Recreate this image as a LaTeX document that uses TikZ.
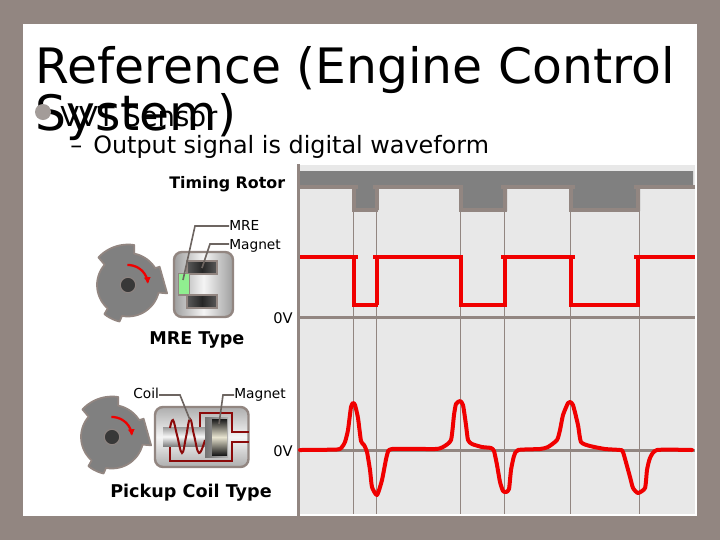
\documentclass[tikz,border=0pt]{standalone}
\usepackage{fontspec}
\setmainfont{DejaVu Sans}
\usetikzlibrary{arrows.meta}
\definecolor{frame}{HTML}{928681}
\definecolor{panel}{HTML}{E8E8E8}
\definecolor{steel}{HTML}{808080}
\definecolor{signal}{HTML}{F00000}
\definecolor{wire}{HTML}{8B0A0A}
\definecolor{dot}{HTML}{A39C99}
\definecolor{mre}{HTML}{90EE90}
\definecolor{beige}{HTML}{E8E4D0}
\tikzset{
  rotor/.style={fill=steel,draw=frame,line width=1.3pt,line join=round},
  hub/.style={fill=black!78,draw=frame!70!steel,line width=0.8pt},
  turn/.style={draw=signal,line width=1.7pt,-{Latex[length=5pt,width=5.5pt]}},
  housing/.style={draw=frame,line width=1.8pt,rounded corners=6pt},
  leader/.style={draw=frame!75!black,line width=1.2pt},
  wave/.style={draw=signal,line width=3pt},
  guide/.style={draw=frame,line width=0.7pt},
  zero/.style={draw=frame,line width=2pt},
  small/.style={inner sep=0pt,font=\fontsize{10.3}{12}\selectfont},
  caption/.style={inner sep=0pt,font=\fontsize{13.2}{15}\selectfont\bfseries},
  coilwire/.style={draw=wire,line width=1.5pt},
  rotorpic/.pic={
    \draw[rotor] plot[domain=223:279,samples=12] (\x:40.5) -- plot[domain=281:328,samples=12] (\x:32)
      -- (330:36.5) -- (372:40) -- plot[domain=374:461,samples=16] (\x:31.5)
      -- plot[domain=463:489,samples=6] (\x:37.5) -- plot[domain=491:581,samples=16] (\x:31) -- cycle;
    \draw[hub] (0,0) circle (5.8pt);
    \draw[turn] plot[smooth,domain=-92:-3,samples=12] (\x:20);
  },
}
\begin{document}
\begin{tikzpicture}[x=0.75pt,y=-0.75pt]
\useasboundingbox (0,0) rectangle (720,540);
\fill[frame] (0,0) rectangle (720,540);
\fill[white] (23,24) rectangle (697,516);
\fill[panel] (300,165) rectangle (695,514);
% timing rotor band
\fill[steel] (300,171)--(693,171)--(693,186)--(640,186)--(640,211)--(569,211)--(569,186)--(507,186)--(507,211)--(459,211)--(459,186)--(378,186)--(378,211)--(352,211)--(352,186)--(300,186)--cycle;
\foreach \x in {353.5,376.5,460.5,504.5,570.5,639.5}{\draw[guide] (\x,211)--(\x,514);}
\draw[line width=2.2pt,frame] (298.5,164)--(298.5,516);
\draw[zero] (300,317.5)--(695,317.5);
\draw[zero] (300,450.5)--(695,450.5);
% outline and square wave share their steps
\foreach \ya/\yb/\col in {187/209.5/frame,257/305/signal}{
  \foreach \xa/\xb in {300/358,373/463,501/575,634/695}{\draw[line width=3pt,\col] (\xa,\ya)--(\xb,\ya);}
  \foreach \xa/\xb in {352/378,459/507,569/640}{\draw[line width=3pt,\col] (\xa,\yb)--(\xb,\yb);}
  \foreach \x in {353.5,377,460.5,505,570.5,638}{\draw[line width=3pt,\col] (\x,\ya)--(\x,\yb);}
}
% pickup coil output
\draw[wave,line join=round,line cap=round] plot[smooth,tension=0.35] coordinates {(300,450)(337,449.5)(342,447)(345,442)(348,430)(351,407)(353,403)(355,405)(358,418)(361,441)(364,445)(367,452)(370,470)(372,487)(377,495)(382,480)(387,455)(392,449)(435,449)(443,447)(451,440)(454,415)(456,404)(460,401)(463,405)(466,425)(468,440)(472,444)(482,447)(491,448)(494,451)(497,465)(500,482)(503,491)(506,492)(509,489)(511,470)(514,456)(518,450)(540,449)(548,447)(557,440)(560,430)(563,415)(568,403)(570,402)(573,405)(578,425)(581,442)(590,446)(605,449)(620,450)(623,452)(630,477)(633,488)(638,493)(645,488)(647,470)(650,458)(657,450)(692,450)};
% MRE sensor
\pic at (128,285) {rotorpic};
\draw[housing,left color=black!38,right color=black!38,middle color=black!4] (174,252) rectangle (233,317);
\foreach \ya/\yb in {261/274,295/308}{
  \draw[draw=frame,line width=1.3pt,left color=black!65,right color=black!65,middle color=black!85] (187,\ya) rectangle (217,\yb);
}
\fill[mre,draw=frame,line width=1.3pt] (178.5,273.5) rectangle (189.5,295);
\node[small,anchor=base west] (mrelab) at (229,230) {MRE};
\node[small,anchor=base west] (maglab) at (229,249) {Magnet};
\coordinate (mretip) at (183,280);
\coordinate (magtip) at (202,268);
\coordinate (mreknee) at (195,226);
\coordinate (magknee) at (210,244);
\draw[leader] (mrelab.west |- mreknee)--(mreknee)--(mretip);
\draw[leader] (maglab.west |- magknee)--(magknee)--(magtip);
\node[caption,anchor=base west] (mrecap) at (149,344) {MRE Type};
% pickup coil sensor
\pic at (112,437) {rotorpic};
\draw[housing,top color=black!32,bottom color=black!32,middle color=black!4] (155,407) rectangle (248.5,467);
\draw[coilwire] (248.5,432)--(232,432)--(232,413)--(200,413)--(200,430);
\draw[coilwire] (248.5,442)--(232,442)--(232,461)--(170,461)--(170,447);
\shade[top color=black!40,bottom color=black!50,middle color=black!3] (163,427) rectangle (206,446);
\draw[coilwire] plot[smooth,tension=0.7] coordinates {(170,428)(173,420)(177,435)(182,453)(186,437)(190,419)(194,435)(199,453)(205,440)};
\shade[left color=black!55,right color=black!30] (205,417) rectangle (228,457);
\shade[top color=black!90,bottom color=black!90,middle color=beige] (212,419) rectangle (227,455);
\node[small,anchor=base west] (coillab) at (133,398) {Coil};
\node[small,anchor=base west] (maglabb) at (234,398) {Magnet};
\coordinate (coiltip) at (190,420);
\coordinate (magtipb) at (219,424);
\coordinate (coilknee) at (180,395);
\coordinate (magkneeb) at (223,395);
\draw[leader] (coillab.east |- coilknee)--(coilknee)--(coiltip);
\draw[leader] (maglabb.west |- magkneeb)--(magkneeb)--(magtipb);
\node[caption,anchor=base west] (coilcap) at (110,497) {Pickup Coil Type};
\node[inner sep=0pt,anchor=base west,font=\fontsize{11.9}{14}\selectfont\bfseries] (rotorlab) at (169,188) {Timing Rotor};
\node[inner sep=0pt,anchor=base west,font=\fontsize{11}{13}\selectfont] (zeroa) at (273,323) {0V};
\node[inner sep=0pt,anchor=base west,font=\fontsize{11}{13}\selectfont] (zerob) at (273,456) {0V};
% slide text
\node[inner sep=0pt,anchor=base west,font=\fontsize{36.6}{47}\selectfont] (titlea) at (35,83) {Reference (Engine Control};
\node[inner sep=0pt,anchor=base west,font=\fontsize{36.6}{47}\selectfont] (titleb) at (35,130) {System)};
\fill[dot] (43,112) circle (6pt);
\node[inner sep=0pt,anchor=base west,font=\fontsize{20.6}{25}\selectfont] (sensor) at (60,126) {VVT Sensor};
\node[inner sep=0pt,anchor=base west,font=\fontsize{17.9}{22}\selectfont] (dash) at (70,153) {–};
\node[inner sep=0pt,anchor=base west,font=\fontsize{17.9}{22}\selectfont] (output) at (93,153) {Output signal is digital waveform};
\end{tikzpicture}
\end{document}
